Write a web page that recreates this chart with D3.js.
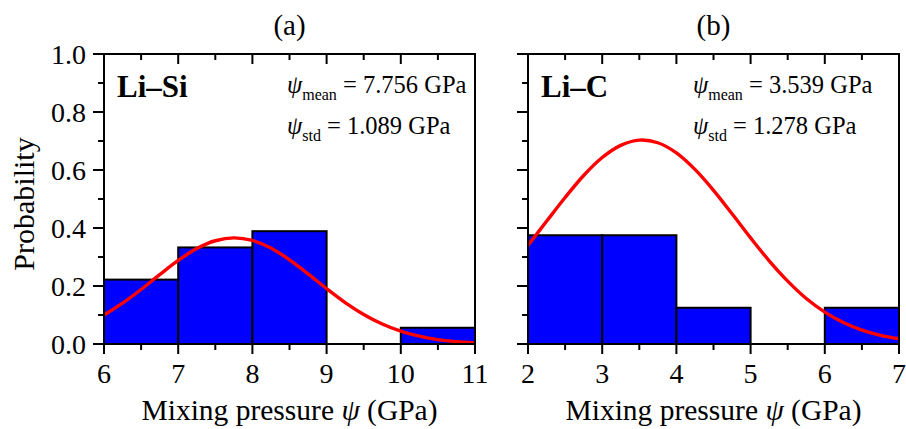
<!DOCTYPE html>
<html>
<head>
<meta charset="utf-8">
<script src="https://cdn.jsdelivr.net/npm/d3@7"></script>
<style>
body { margin: 0; background: #fff; }
svg text { font-family: "Liberation Serif", "DejaVu Serif", serif; fill: #000; }
</style>
</head>
<body>
<div id="chart"></div>
<script>
// Data
const binEdgesA = [6, 7, 8, 9, 10, 11];
const probA = [0.222, 0.333, 0.389, 0, 0.056];
const binEdgesB = [2, 3, 4, 5, 6, 7];
const probB = [0.375, 0.375, 0.125, 0, 0.125];

// fitted curves
const curveXA = [6, 6.25, 6.5, 6.75, 7, 7.25, 7.5, 7.75, 8, 8.25, 8.5, 8.75, 9, 9.25, 9.5, 9.75, 10, 10.25, 10.5, 10.75, 11];
const curveYA = [0.100, 0.141, 0.188, 0.239, 0.288, 0.329, 0.356, 0.366, 0.357, 0.331, 0.290, 0.242, 0.191, 0.143, 0.102, 0.069, 0.044, 0.027, 0.015, 0.008, 0.004];
const curveXB = [2, 2.25, 2.5, 2.75, 3, 3.25, 3.5, 3.75, 4, 4.25, 4.5, 4.75, 5, 5.25, 5.5, 5.75, 6, 6.25, 6.5, 6.75, 7];
const curveYB = [0.340, 0.423, 0.505, 0.581, 0.643, 0.685, 0.703, 0.694, 0.659, 0.602, 0.530, 0.449, 0.366, 0.287, 0.217, 0.157, 0.110, 0.074, 0.048, 0.030, 0.018];

const yTicks = [0, 0.2, 0.4, 0.6, 0.8, 1.0];
const yMinor = [0.1, 0.3, 0.5, 0.7, 0.9];

const panels = [
	{id: "(a)", label: "Li\u2013Si", mean: "7.756", std: "1.089", edges: binEdgesA, prob: probA, cx: curveXA, cy: curveYA, left: 104, statX: 183, yLabels: true},
	{id: "(b)", label: "Li\u2013C", mean: "3.539", std: "1.278", edges: binEdgesB, prob: probB, cx: curveXB, cy: curveYB, left: 528, statX: 165, yLabels: false}
];

const W = 906, H = 429;
const plotW = 371, plotTop = 54, plotBottom = 344;

const svg = d3.select("#chart").append("svg")
	.attr("width", W)
	.attr("height", H);

const y = d3.scaleLinear().domain([0, 1]).range([plotBottom, plotTop]);

// y axis title
svg.append("text")
	.attr("transform", `translate(34, ${(plotTop + plotBottom) / 2 + 5}) rotate(-90)`)
	.style("text-anchor", "middle")
	.style("font-size", "30px")
	.text("Probability");

panels.forEach(p => {
	const x = d3.scaleLinear()
		.domain([p.edges[0], p.edges[p.edges.length - 1]])
		.range([p.left, p.left + plotW]);
	const g = svg.append("g");

	// Bars
	const bins = p.prob.map((v, i) => ({x0: p.edges[i], x1: p.edges[i + 1], v: v}));
	g.selectAll(".bar")
		.data(bins.filter(d => d.v > 0))
		.enter().append("rect")
			.attr("class", "bar")
			.attr("x", d => x(d.x0))
			.attr("y", d => y(d.v))
			.attr("width", d => x(d.x1) - x(d.x0))
			.attr("height", d => y(0) - y(d.v))
			.style("fill", "#0000ff")
			.style("stroke", "#000")
			.style("stroke-width", 2);

	// Fitted curve
	const line = d3.line()
		.x((d, i) => x(p.cx[i]))
		.y(d => y(d))
		.curve(d3.curveCatmullRom);
	g.append("path")
		.datum(p.cy)
		.attr("d", line)
		.style("fill", "none")
		.style("stroke", "#ff0000")
		.style("stroke-width", 3.4);

	// Frame
	g.append("rect")
		.attr("x", x.range()[0])
		.attr("y", plotTop)
		.attr("width", plotW)
		.attr("height", plotBottom - plotTop)
		.style("fill", "none")
		.style("stroke", "#000")
		.style("stroke-width", 2);

	// ticks
	const xMaj = d3.range(p.edges[0], p.edges[p.edges.length - 1] + 0.01, 1);
	const xMin = d3.range(p.edges[0] + 0.5, p.edges[p.edges.length - 1], 1);
	const tick = (data, x1, y1, x2, y2) => g.selectAll(null)
		.data(data).enter().append("line")
			.attr("x1", x1).attr("y1", y1).attr("x2", x2).attr("y2", y2)
			.style("stroke", "#000").style("stroke-width", 2);

	tick(xMaj, d => x(d), plotBottom, d => x(d), plotBottom + 10);
	tick(xMin, d => x(d), plotBottom, d => x(d), plotBottom + 6);
	tick(xMaj, d => x(d), plotTop, d => x(d), plotTop + 10);
	tick(xMin, d => x(d), plotTop, d => x(d), plotTop + 6);
	tick(yTicks, p.left - 11, d => y(d), p.left, d => y(d));
	tick(yMinor, p.left - 6, d => y(d), p.left, d => y(d));

	g.selectAll(null)
		.data(xMaj).enter().append("text")
			.attr("x", d => x(d))
			.attr("y", plotBottom + 39)
			.style("text-anchor", "middle")
			.style("font-size", "28px")
			.text(d => d);

	if (p.yLabels) {
		g.selectAll(null)
			.data(yTicks).enter().append("text")
				.attr("x", p.left - 18)
				.attr("y", d => y(d))
				.attr("dy", "0.35em")
				.style("text-anchor", "end")
				.style("font-size", "28px")
				.text(d => d.toFixed(1));
	}

	// x axis title
	const xt = g.append("text")
		.attr("x", p.left + plotW / 2)
		.attr("y", plotBottom + 76)
		.style("text-anchor", "middle")
		.style("font-size", "29.5px");
	xt.append("tspan").text("Mixing pressure ");
	xt.append("tspan").style("font-style", "italic").text("\u03C8");
	xt.append("tspan").text(" (GPa)");

	// Panel id
	g.append("text")
		.attr("x", p.left + plotW / 2)
		.attr("y", 35)
		.style("text-anchor", "middle")
		.style("font-size", "29px")
		.text(p.id);

	// Material label
	g.append("text")
		.attr("x", p.left + 13)
		.attr("y", 97)
		.style("font-size", "31px")
		.style("font-weight", "bold")
		.text(p.label);

	// Stats
	[["mean", p.mean, 93], ["std", p.std, 134]].forEach(s => {
		const t = g.append("text")
			.attr("x", p.left + p.statX)
			.attr("y", s[2])
			.style("font-size", "24.5px");
		t.append("tspan").style("font-style", "italic").text("\u03C8");
		t.append("tspan").attr("dy", 7).style("font-size", "16px").text(s[0]);
		t.append("tspan").attr("dy", -7).text(" = " + s[1] + " GPa");
	});
});
</script>
</body>
</html>
